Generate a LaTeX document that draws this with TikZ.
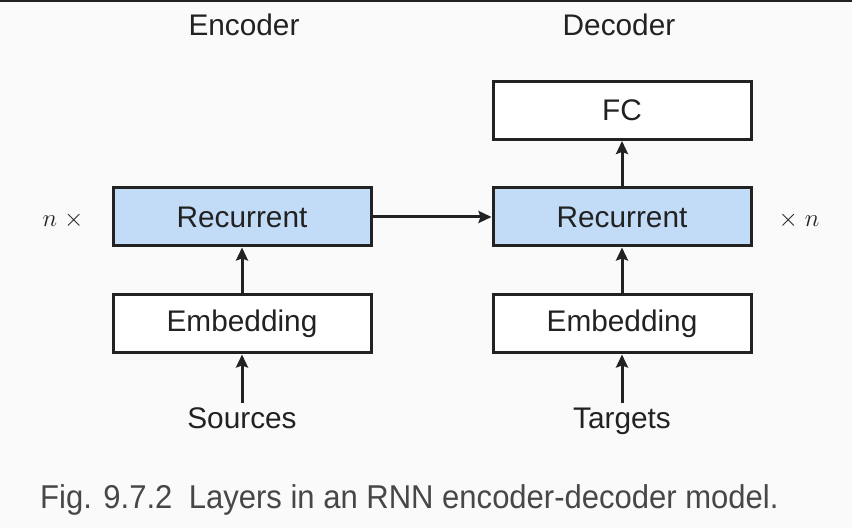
\documentclass[tikz,border=0pt]{standalone}
\usepackage{fontspec}
\setmainfont{Liberation Sans}
\newfontfamily\capfont[FakeStretch=0.94]{Liberation Sans}
\usetikzlibrary{arrows.meta}
\definecolor{bgcol}{HTML}{FAFAFA}
\definecolor{ink}{HTML}{222222}
\definecolor{recfill}{HTML}{C2DBF7}
\definecolor{capcol}{HTML}{474747}
\tikzset{
  layer/.style={draw=ink, line width=3pt, minimum width=258pt, minimum height=58pt,
    inner sep=0pt, font=\fontsize{29.8}{34}\selectfont, text=ink, fill=white},
  rnnlayer/.style={layer, fill=recfill},
  flow/.style={draw=ink, line width=3pt, -{Stealth[length=13pt,width=12pt,inset=2pt]}},
  plain/.style={font=\fontsize{29.8}{34}\selectfont, text=ink, inner sep=0pt,
    text height=22pt, text depth=7pt},
}
\begin{document}
\begin{tikzpicture}[x=1pt,y=1pt]
  \useasboundingbox (0,0) rectangle (852,528);
  \fill[bgcol] (0,0) rectangle (852,528);
  \draw[ink, line width=2.5pt] (0,527) -- (852,527);

  % column headings
  \node[plain] (enchead) at (244,500) {Encoder};
  \node[plain] (dechead) at (619,500) {Decoder};

  % encoder stack
  \node[rnnlayer] (encrnn) at (242,311) {Recurrent};
  \node[layer]    (encemb) at (242,204) {Embedding};
  \node[plain, inner sep=3pt] (src) at (242,107) {Sources};

  % decoder stack
  \node[layer]    (fc)     at (622,417.5) {FC};
  \node[rnnlayer] (decrnn) at (622,311) {Recurrent};
  \node[layer]    (decemb) at (622,204) {Embedding};
  \node[plain, inner sep=3pt] (tgt) at (622,107) {Targets};

  % repetition marks
  \node[plain, font=\fontsize{32}{36}\selectfont] (nleft)  at (63,309) {$n\;\times$};
  \node[plain, font=\fontsize{32}{36}\selectfont] (nright) at (799,309) {$\times\; n$};

  % connections
  \draw[flow] (src.north) -- (encemb.south);
  \draw[flow] (encemb.north) -- (encrnn.south);
  \draw[flow] (tgt.north) -- (decemb.south);
  \draw[flow] (decemb.north) -- (decrnn.south);
  \draw[flow] (decrnn.north) -- (fc.south);
  \draw[flow] (encrnn.east) -- (decrnn.west);

  % caption
  \node[anchor=west, inner sep=0pt, text=capcol, font=\capfont\fontsize{33}{37}\selectfont]
    (caption) at (40,28) {Fig. 9.7.2\hspace{0.5em}Layers in an RNN encoder-decoder model.};
\end{tikzpicture}
\end{document}
